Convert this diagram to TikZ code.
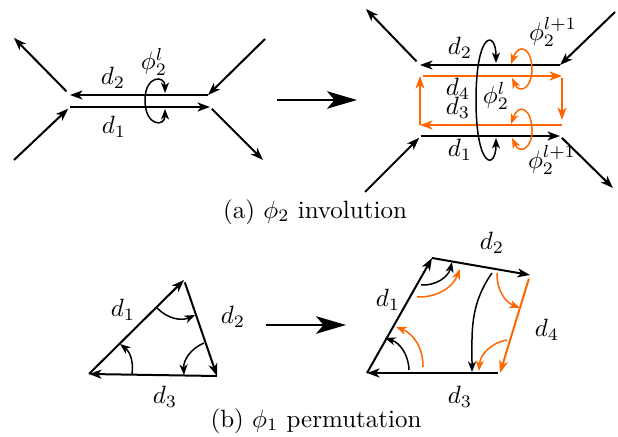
\documentclass[tikz,border=0pt]{standalone}
\usetikzlibrary{arrows.meta,calc}
\definecolor{invorange}{RGB}{255,102,0}
\tikzset{
    edge/.style={
        -{Stealth[length=5pt,width=3.6pt,inset=1.4pt]},thick,draw=#1
    },
    edge/.default=black,
    turn/.style={
        -{Stealth[length=4.2pt,width=3.2pt,inset=1.2pt]},semithick,draw=#1
    },
    turn/.default=black,
    twoway/.style={
        {Stealth[length=4.2pt,width=3.2pt,inset=1.2pt]}-{Stealth[length=4.2pt,width=3.2pt,inset=1.2pt]},
        semithick,draw=#1
    },
    twoway/.default=black,
    bigarrow/.style={
        -{Stealth[length=12pt,width=7pt,inset=3pt]},thick
    }
}

\begin{document}
\begin{tikzpicture}[x=0.4pt,y=-0.4pt,every node/.style={inner sep=0.5pt}]
\useasboundingbox (0,0) rectangle (618,437);

% (a) left: two darts d1, d2
\coordinate (a2s) at (208,95);
\coordinate (a2e) at (70,95);
\coordinate (a1s) at (70,107);
\coordinate (a1e) at (210,107);
\coordinate (anw) at (14,38);
\coordinate (asw) at (14,160);
\coordinate (ane) at (265,39);
\coordinate (ase) at (263,160);
\draw[edge] (a2s) -- (a2e);
\draw[edge] (a1s) -- (a1e);
\draw[edge,shorten <=2pt] (a2e) -- (anw);
\draw[edge,shorten >=1pt] (asw) -- (a1s);
\draw[edge] (ane) -- (a2s);
\draw[edge,shorten <=1pt] (a1e) -- (ase);

\coordinate (aLt) at (165,93);
\coordinate (aLm) at (145,100);
\coordinate (aLb) at (165,109);
\draw[twoway] (aLt) .. controls +(0,-18) and +(0,-25) .. (aLm)
    .. controls +(0,27) and +(0,18) .. (aLb);

\node (ad2) at (113,78) {$d_2$};
\node (ad1) at (114,127) {$d_1$};
\node (aphi) at (154,62) {$\phi_2^l$};

% middle arrows
\coordinate (ma1) at (277,100);
\coordinate (ma2) at (357,100);
\draw[bigarrow] (ma1) -- (ma2);
\coordinate (mb1) at (266,325);
\coordinate (mb2) at (346,325);
\draw[bigarrow] (mb1) -- (mb2);

% (a) right: inserted darts d3, d4
\coordinate (b2s) at (560,65);
\coordinate (b2e) at (420,65);
\coordinate (b1s) at (421,136);
\coordinate (b1e) at (560,136);
\coordinate (bnw) at (366,9);
\coordinate (bne) at (615,12);
\coordinate (bsw) at (365,192);
\coordinate (bse) at (613,188);
\draw[edge] (b2s) -- (b2e);
\draw[edge] (b1s) -- (b1e);
\draw[edge,shorten <=2pt] (b2e) -- (bnw);
\draw[edge] (bne) -- (b2s);
\draw[edge,shorten >=1pt] (bsw) -- (b1s);
\draw[edge,shorten <=1pt] (b1e) -- (bse);

\coordinate (otl) at (420,76);
\coordinate (otr) at (562,76);
\coordinate (obr) at (562,125);
\coordinate (obl) at (420,125);
\draw[edge=invorange,shorten <=1pt] (otl) -- (otr);
\draw[edge=invorange,shorten <=1pt,shorten >=2pt] (otr) -- (obr);
\draw[edge=invorange] (obr) -- (obl);
\draw[edge=invorange] (obl) -- (otl);

\coordinate (bLt) at (496,63);
\coordinate (bLm) at (476,100);
\coordinate (bLb) at (496,138);
\draw[twoway] (bLt) .. controls +(0,-33) and +(0,-70) .. (bLm)
    .. controls +(0,70) and +(0,32) .. (bLb);

\coordinate (oAt) at (511,64);
\coordinate (oAm) at (532,70);
\coordinate (oAb) at (512,78);
\draw[twoway=invorange] (oAt) .. controls +(8,-22) and +(0,-22) .. (oAm)
    .. controls +(0,17) and +(8,17) .. (oAb);
\coordinate (oBt) at (511,124);
\coordinate (oBm) at (532,131);
\coordinate (oBb) at (512,138);
\draw[twoway=invorange] (oBt) .. controls +(8,-22) and +(0,-22) .. (oBm)
    .. controls +(0,17) and +(8,17) .. (oBb);

\node (bd2) at (460,48) {$d_2$};
\node (bd4) at (458,89) {$d_4$};
\node (bd3) at (458,108) {$d_3$};
\node (bd1) at (460,150) {$d_1$};
\node (bphi) at (496,96) {$\phi_2^l$};
\node (bphiu) at (553,32) {$\phi_2^{l+1}$};
\node (bphid) at (552,160) {$\phi_2^{l+1}$};

\node (capa) at (315,212) {(a) $\phi_2$ involution};

% (b) left: triangle
\coordinate (tA) at (89,374);
\coordinate (tB) at (184,280);
\coordinate (tC) at (217,376);
\draw[edge] (tA) -- (tB);
\draw[edge,shorten <=1pt] (tB) -- (tC);
\draw[edge] (tC) -- (tA);
\draw[turn] ($(tB)+(-27,28)$) to[bend right=35] ($(tB)+(11,35)$);
\draw[turn] ($(tC)+(-13,-33)$) to[bend right=35] ($(tC)+(-33,-1)$);
\draw[turn] ($(tA)+(43,0)$) to[bend right=30] ($(tA)+(31,-30)$);
\node (td1) at (123,310) {$d_1$};
\node (td2) at (233,317) {$d_2$};
\node (td3) at (165,397) {$d_3$};

% (b) right: quadrilateral
\coordinate (qP) at (367,373);
\coordinate (qQ) at (432,258);
\coordinate (qR) at (530,275);
\coordinate (qS) at (500,373);
\draw[edge] (qP) -- (qQ);
\draw[edge] (qQ) -- (qR);
\draw[edge=invorange,shorten <=1.5pt] (qR) -- (qS);
\draw[edge,shorten <=1pt] (qS) -- (qP);
\draw[turn] ($(qQ)+(-11,27)$) to[bend right=40] ($(qQ)+(20,4)$);
\draw[turn=invorange] ($(qQ)+(-15,39)$) to[bend right=35] ($(qQ)+(28,11)$);
\draw[turn] ($(qR)+(-38,-2)$) to[out=235,in=90] ($(qS)+(-28,-1)$);
\draw[turn=invorange] ($(qR)+(-33,-2)$) to[bend right=35] ($(qR)+(-10,33)$);
\draw[turn=invorange] ($(qS)+(7,-33)$) to[bend right=38] ($(qS)+(-21,-2)$);
\draw[turn] ($(qP)+(42,-3)$) to[bend right=35] ($(qP)+(18,-35)$);
\draw[turn=invorange] ($(qP)+(56,-6)$) to[bend right=35] ($(qP)+(29,-46)$);
\node (qd2) at (492,243) {$d_2$};
\node (qd1) at (388,300) {$d_1$};
\node (qd4) at (547,330) {$d_4$};
\node (qd3) at (460,397) {$d_3$};

\node (capb) at (316,421) {(b) $\phi_1$ permutation};

\end{tikzpicture}
\end{document}
